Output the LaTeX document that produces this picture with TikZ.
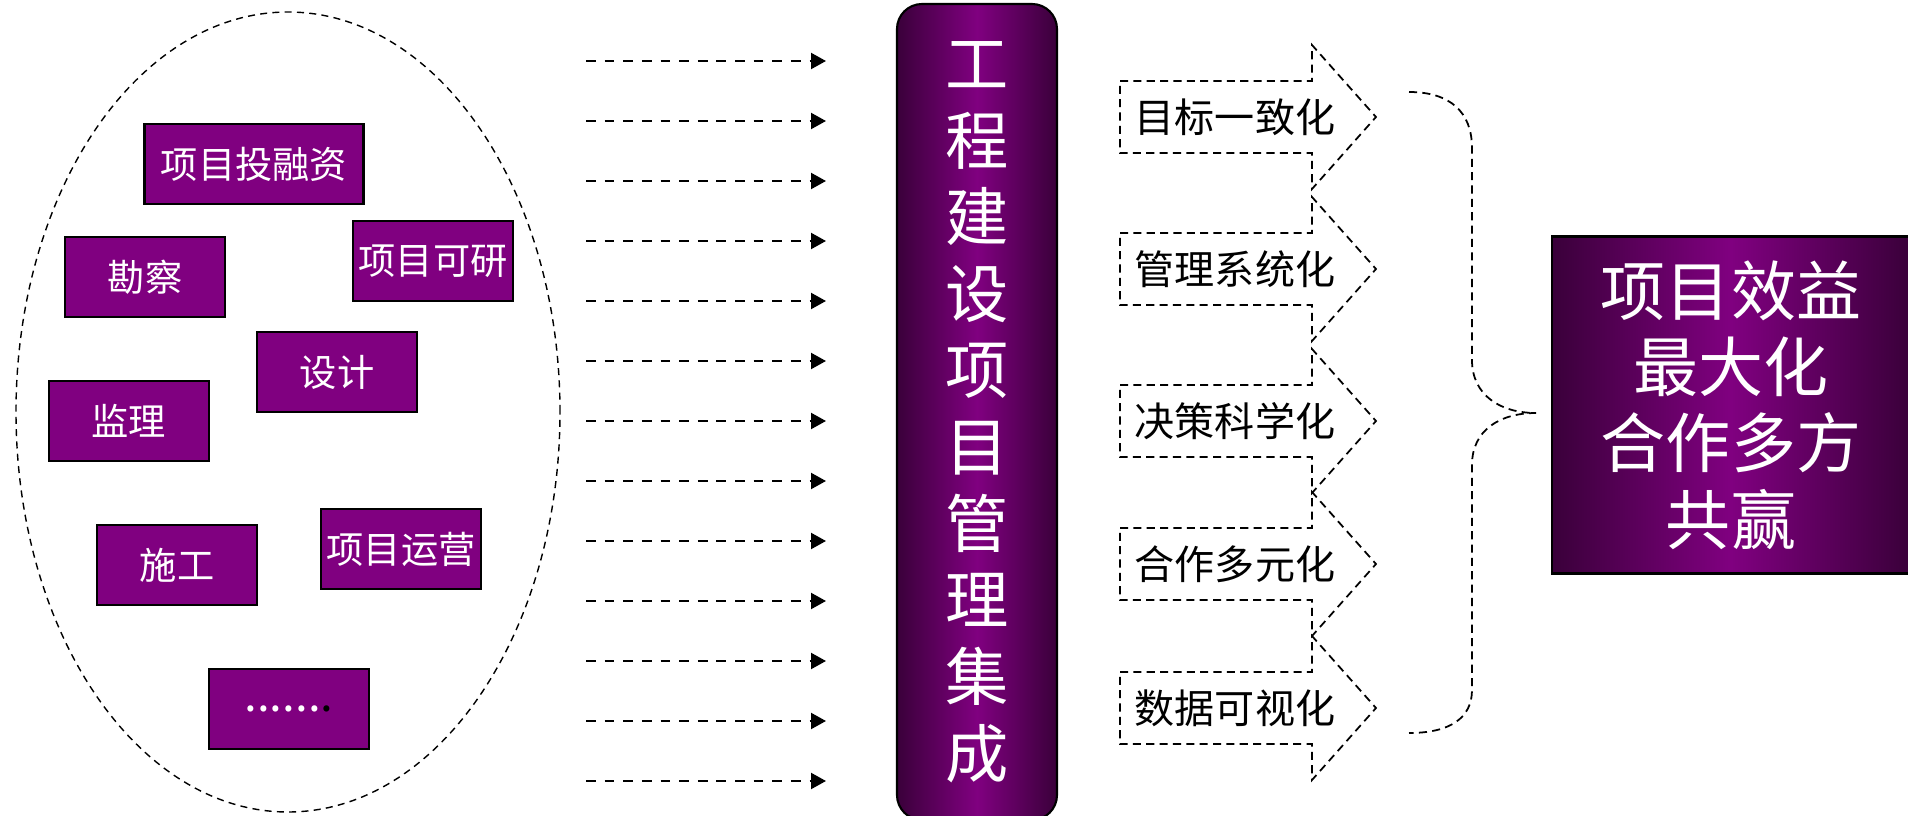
\documentclass[tikz,border=0pt]{standalone}
\usepackage{fontspec}
\setmainfont{Noto Sans CJK SC}
\usepackage{tikz}
\usetikzlibrary{shapes.geometric,arrows.meta,positioning}
\definecolor{plum}{HTML}{800080}
\definecolor{plumdark}{HTML}{3A003A}

\begin{document}
\begin{tikzpicture}[
        x=0.1mm, y=-0.1mm,
        party/.style={rectangle, draw=black, line width=0.6pt, fill=plum, text=white, minimum width=16mm, minimum height=8mm, inner sep=0pt, font=\fontsize{10.6pt}{12pt}\selectfont},
        pool/.style={ellipse, draw, line width=0.4pt, dash pattern=on 2pt off 1.5pt, minimum width=54.4mm, minimum height=80mm, inner sep=0pt},
        bar/.style={rectangle, rounded corners=2.5mm, draw=black, line width=0.6pt, left color=plumdark, right color=plumdark, middle color=plum, text=white, align=center, minimum width=16mm, minimum height=81.6mm, inner sep=0pt, font=\fontsize{18pt}{21.8pt}\selectfont},
        goal/.style={rectangle, draw=black, line width=0.6pt, left color=plumdark, right color=plumdark, middle color=plum, text=white, align=center, minimum width=35.8mm, minimum height=33.7mm, inner sep=0pt, font=\fontsize{18.5pt}{21.7pt}\selectfont},
        label/.style={font=\fontsize{11.4pt}{13pt}\selectfont, inner sep=0pt},
        flow/.style={line width=0.6pt, dash pattern=on 2.8pt off 2.5pt, -{Triangle[length=1.5mm,width=1.6mm]}},
        outline/.style={line width=0.5pt, dash pattern=on 2.3pt off 1.5pt}
    ]
    \useasboundingbox (0,0) rectangle (1908,816);
    % Participants
    \node[pool] (pool) at (288,412) {};
    \node[party, minimum width=21.9mm] (finance) at (254,164) {项目投融资};
    \node[party] (survey) at (145,277) {勘察};
    \node[party] (study) at (433,261) {项目可研};
    \node[party] (design) at (337,372) {设计};
    \node[party] (supervise) at (129,421) {监理};
    \node[party] (build) at (177,565) {施工};
    \node[party] (operate) at (401,549) {项目运营};
    \node[party, font=\fontsize{13pt}{14pt}\selectfont] (more) at (289,709) {......\textcolor{black}{.}};
    % Integration bar
    \node[bar] (integ) at (977,412) {工\\程\\建\\设\\项\\目\\管\\理\\集\\成};
    % Inputs
    \foreach \k in {0,...,12} {
        \coordinate (src\k) at (586,61+60*\k);
        \coordinate (dst\k) at (826,61+60*\k);
        \draw[flow] (src\k) -- (dst\k);
    }
    % Outcomes
    \foreach \cy/\txt [count=\i] in {117/目标一致化, 269/管理系统化, 421/决策科学化, 564/合作多元化, 708/数据可视化} {
        \draw[outline] (1120,\cy-36) -- (1312,\cy-36) -- (1312,\cy-72) -- (1376,\cy)
            -- (1312,\cy+72) -- (1312,\cy+36) -- (1120,\cy+36) -- cycle;
        \node[label] (aim\i) at (1235,\cy) {\txt};
    }
    % Brace
    \coordinate (tip) at (1536,413);
    \draw[outline] (1409,92) .. controls (1450,92) and (1472,112) .. (1472,148)
        -- (1472,360) .. controls (1472,395) and (1500,413) .. (tip)
        .. controls (1500,413) and (1472,430) .. (1472,465)
        -- (1472,690) .. controls (1472,718) and (1450,733) .. (1409,733);
    % Result
    \node[goal] (goal) at (1731,405) {项目效益\\最大化\\合作多方\\共赢};
\end{tikzpicture}
\end{document}
